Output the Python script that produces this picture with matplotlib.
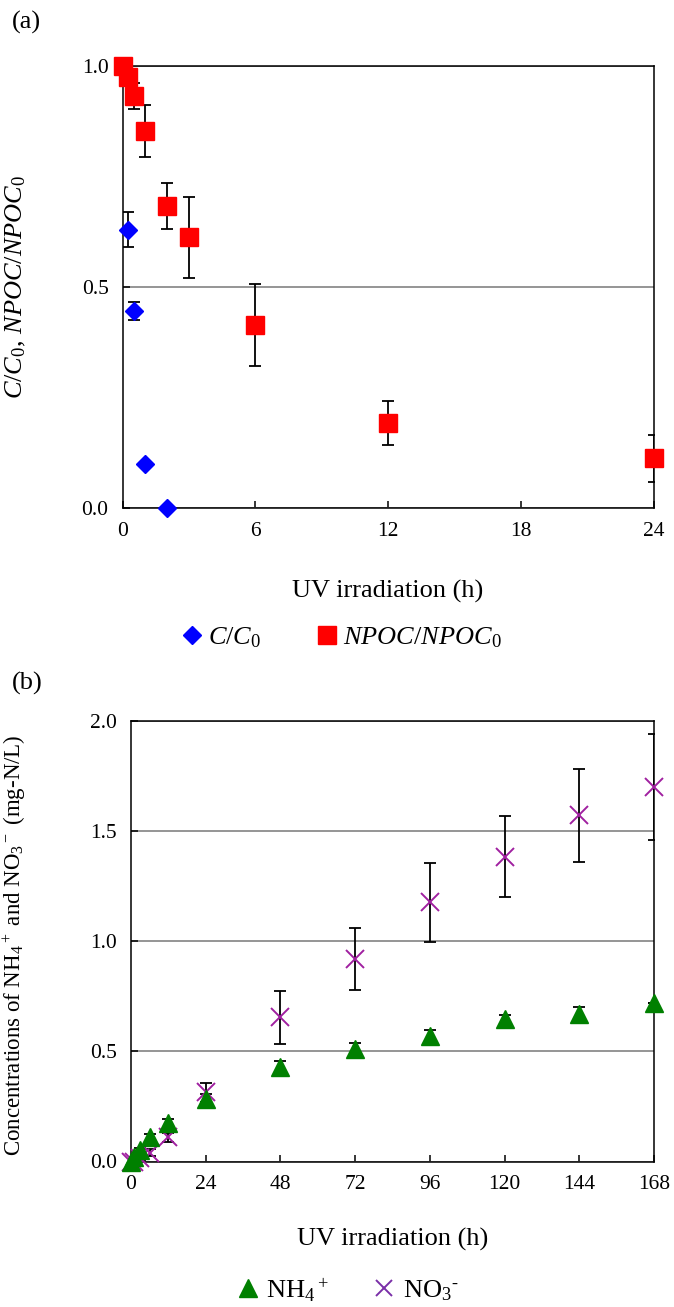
import matplotlib
matplotlib.use("Agg")
import matplotlib.pyplot as plt
from matplotlib.lines import Line2D

plt.rcParams['font.family'] = ['Liberation Serif', 'DejaVu Serif']
plt.rcParams['mathtext.fontset'] = 'custom'
plt.rcParams['mathtext.rm'] = 'Liberation Serif'
plt.rcParams['mathtext.it'] = 'Liberation Serif:italic'
plt.rcParams['mathtext.bf'] = 'Liberation Serif:bold'

# panel (a) data
t_c = [0, 0.25, 0.5, 1, 2]
c_ratio = [1.0, 0.63, 0.445, 0.10, 0.0]
c_err = [0.0, 0.04, 0.02, 0.0, 0.0]

t_npoc = [0, 0.25, 0.5, 1, 2, 3, 6, 12, 24]
npoc_ratio = [1.0, 0.975, 0.932, 0.853, 0.684, 0.612, 0.414, 0.193, 0.112]
npoc_err = [0.0, 0.01, 0.03, 0.058, 0.052, 0.092, 0.093, 0.05, 0.054]

# panel (b) data
t_n = [0, 1, 3, 6, 12, 24, 48, 72, 96, 120, 144, 168]
nh4 = [0.0, 0.02, 0.05, 0.11, 0.175, 0.285, 0.427, 0.511, 0.57, 0.645, 0.67, 0.718]
nh4_err = [0.0, 0.01, 0.01, 0.015, 0.02, 0.02, 0.03, 0.025, 0.025, 0.02, 0.03, 0.0]
no3 = [0.0, 0.0, 0.015, 0.04, 0.11, 0.315, 0.654, 0.919, 1.175, 1.383, 1.57, 1.70]
no3_err = [0.0, 0.0, 0.01, 0.015, 0.02, 0.043, 0.12, 0.14, 0.18, 0.185, 0.21, 0.24]

W, H = 674, 1307
fig = plt.figure(figsize=(W / 100, H / 100), dpi=100)

def box(l, r, t, b):
    return [l / W, 1 - b / H, (r - l) / W, (b - t) / H]

ax1 = fig.add_axes(box(122.5, 653.5, 66, 508))
ax2 = fig.add_axes(box(131, 654, 720.5, 1161.5))

tick_fs = 15.5
lab_fs = 19

for ax in (ax1, ax2):
    for s in ax.spines.values():
        s.set_linewidth(1.1)
    ax.tick_params(direction='in', length=5, width=1.1, labelsize=tick_fs,
                   top=False, right=False, pad=10)
    ax.yaxis.grid(True, color='#8c8c8c', linewidth=1.3)
    ax.set_axisbelow(True)

# ---- (a)
ax1.errorbar(t_c, c_ratio, yerr=c_err, fmt='none', ecolor='black',
             elinewidth=1.3, capsize=4, capthick=1.3)
ax1.errorbar(t_npoc, npoc_ratio, yerr=npoc_err, fmt='none', ecolor='black',
             elinewidth=1.3, capsize=4, capthick=1.3)
ax1.plot(t_c, c_ratio, 'D', color='#0000FF', markersize=9, clip_on=False, zorder=5)
ax1.plot(t_npoc, npoc_ratio, 's', color='#FF0000', markersize=13, clip_on=False, zorder=6)
ax1.set_xlim(0, 24)
ax1.set_ylim(0, 1.0)
ax1.set_xticks([0, 6, 12, 18, 24])
ax1.set_yticks([0.0, 0.5, 1.0])
ax1.set_yticklabels(['0.0', '0.5', '1.0'])
ax1.set_xlabel('UV irradiation (h)', fontsize=lab_fs)
ax1.set_ylabel(r'$C/C_{\mathrm{0}}$, $NPOC/NPOC_{\mathrm{0}}$', fontsize=lab_fs)
ax1.xaxis.set_label_coords(0.5, -0.163)
ax1.yaxis.set_label_coords(-0.178, 0.5)

h1 = [Line2D([], [], marker='D', color='#0000FF', ls='none', markersize=9),
      Line2D([], [], marker='s', color='#FF0000', ls='none', markersize=13)]
fig.legend(h1, [r'$C/C_{\mathrm{0}}$', r'$NPOC/NPOC_{\mathrm{0}}$'],
           loc='center', bbox_to_anchor=(0.505, 1 - 638 / H), ncol=2,
           frameon=False, fontsize=lab_fs, handletextpad=0.1,
           columnspacing=2.0, handlelength=1.0)

# ---- (b)
ax2.errorbar(t_n, no3, yerr=no3_err, fmt='none', ecolor='black',
             elinewidth=1.3, capsize=4, capthick=1.3)
ax2.plot(t_n, no3, 'x', color='#A020A0', markersize=13, mew=1.4,
         clip_on=False, zorder=5)
ax2.errorbar(t_n, nh4, yerr=nh4_err, fmt='none', ecolor='black',
             elinewidth=1.3, capsize=4, capthick=1.3)
ax2.plot(t_n, nh4, '^', color='#008000', markersize=12.5, clip_on=False, zorder=6)
ax2.set_xlim(0, 168)
ax2.set_ylim(0, 2.0)
ax2.set_xticks([0, 24, 48, 72, 96, 120, 144, 168])
ax2.set_yticks([0.0, 0.5, 1.0, 1.5, 2.0])
ax2.set_yticklabels(['0.0', '0.5', '1.0', '1.5', '2.0'])
ax2.set_xlabel('UV irradiation (h)', fontsize=lab_fs)
ax2.set_ylabel(r'Concentrations of NH$_4$$^+$ and NO$_3$$^-$ (mg-N/L)', fontsize=16.5)
ax2.xaxis.set_label_coords(0.5, -0.151)
ax2.yaxis.set_label_coords(-0.197, 0.49)

h2 = [Line2D([], [], marker='^', color='#008000', ls='none', markersize=12.5),
      Line2D([], [], marker='x', color='#7A2FA8', ls='none', markersize=11, mew=1.4)]
fig.legend(h2, [r'NH$_4$$^+$', r'NO$_3$$^{\text{-}}$'],
           loc='center', bbox_to_anchor=(0.514, 1 - 1290 / H), ncol=2,
           frameon=False, fontsize=lab_fs, handletextpad=0.2,
           columnspacing=1.6, handlelength=1.0)

fig.text(12 / W, 1 - 22 / H, '(a)', fontsize=lab_fs, va='center', ha='left')
fig.text(12 / W, 1 - 683 / H, '(b)', fontsize=lab_fs, va='center', ha='left')

fig.savefig('out.png', dpi=100)
